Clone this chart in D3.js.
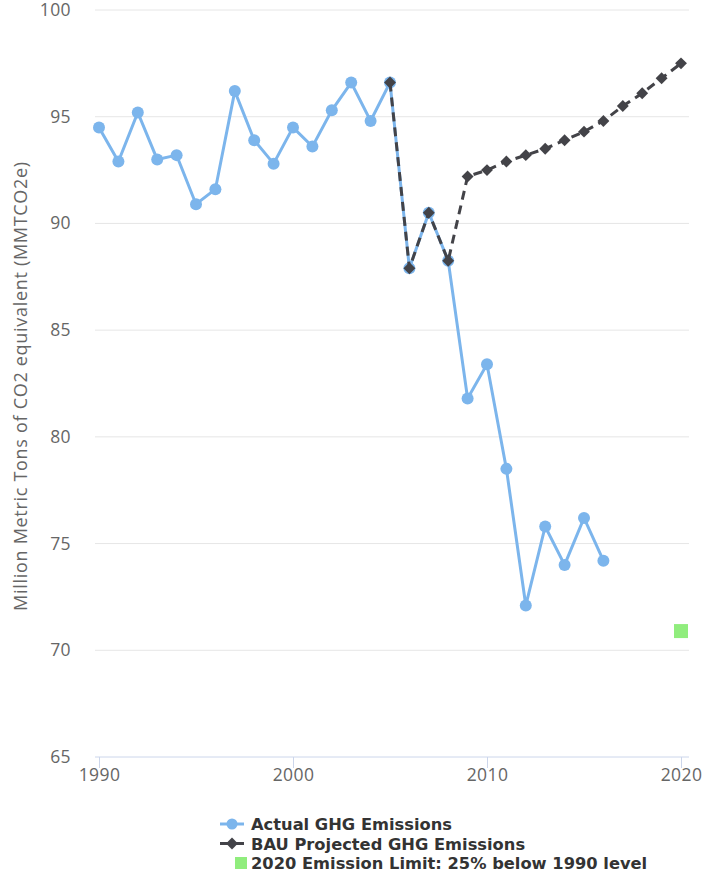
<!DOCTYPE html>
<html>
<head>
<meta charset="utf-8">
<script src="https://cdn.jsdelivr.net/npm/d3@7"></script>
<style>
  body { margin: 0; background: #fff; }
  svg { display: block; font-family: "DejaVu Sans", sans-serif; }
</style>
</head>
<body>
<svg width="705" height="874"></svg>
<script>
// data
var actualYears = d3.range(1990, 2017);
var actualValues = [94.5, 92.9, 95.2, 93.0, 93.2, 90.9, 91.6, 96.2, 93.9, 92.8,
                    94.5, 93.6, 95.3, 96.6, 94.8, 96.6, 87.9, 90.5, 88.25, 81.8,
                    83.4, 78.5, 72.1, 75.8, 74.0, 76.2, 74.2];
var bauYears = d3.range(2005, 2021);
var bauValues = [96.6, 87.9, 90.5, 88.25, 92.2, 92.5, 92.9, 93.2, 93.5, 93.9,
                 94.3, 94.8, 95.5, 96.1, 96.8, 97.5];
var limitYear = [2020];
var limitValue = [70.9];
var yTicks = [65, 70, 75, 80, 85, 90, 95, 100];
var xTicks = [1990, 2000, 2010, 2020];
var legendNames = ["Actual GHG Emissions", "BAU Projected GHG Emissions", "2020 Emission Limit: 25% below 1990 level"];

var svg = d3.select("svg");

var plotLeft = 95, plotRight = 689, plotTop = 10, plotBottom = 757;

var x = d3.scaleLinear().domain([1990, 2020]).range([99, 681]);
var y = d3.scaleLinear().domain([65, 100]).range([plotBottom, plotTop]);

// gridlines
svg.append("g").selectAll("line")
  .data(yTicks.slice(1))
  .enter().append("line")
  .attr("x1", plotLeft).attr("x2", plotRight)
  .attr("y1", d => y(d)).attr("y2", d => y(d))
  .attr("stroke", "#e6e6e6").attr("stroke-width", 1);

// y labels
svg.append("g").selectAll("text")
  .data(yTicks)
  .enter().append("text")
  .attr("x", 71)
  .attr("y", d => y(d) + 6)
  .attr("text-anchor", "end")
  .style("font-family", "'Open Sans', sans-serif")
  .style("font-size", "17.5px")
  .style("letter-spacing", "0.4px")
  .style("fill", "#666")
  .text(d => d);

// y title
svg.append("text")
  .attr("transform", "translate(27,386) rotate(-90)")
  .attr("text-anchor", "middle")
  .style("font-family", "'Open Sans', sans-serif")
  .style("font-size", "18px")
  .style("letter-spacing", "0.7px")
  .style("fill", "#666")
  .text("Million Metric Tons of CO2 equivalent (MMTCO2e)");

// x axis
var xAxis = d3.axisBottom(x).tickValues(xTicks).tickSize(11).tickFormat(d3.format("d"));
var gx = svg.append("g").attr("transform", "translate(0," + plotBottom + ")").call(xAxis);
gx.select(".domain").remove();
gx.append("line").attr("x1", plotLeft).attr("x2", plotRight).attr("stroke", "#ccd6eb");
gx.selectAll(".tick line").attr("stroke", "#ccd6eb");
gx.selectAll(".tick text")
  .attr("y", 12)
  .style("font-family", "'Open Sans', sans-serif")
  .style("font-size", "17.5px")
  .style("letter-spacing", "0.4px")
  .style("fill", "#666");

var line = d3.line().x(d => x(d[0])).y(d => y(d[1]));

var actual = actualYears.map((d, i) => [d, actualValues[i]]);
var bau = bauYears.map((d, i) => [d, bauValues[i]]);

// actual series
svg.append("path")
  .datum(actual)
  .attr("d", line)
  .attr("fill", "none")
  .attr("stroke", "#7cb5ec")
  .attr("stroke-width", 3);

svg.append("g").selectAll("circle")
  .data(actual)
  .enter().append("circle")
  .attr("cx", d => x(d[0])).attr("cy", d => y(d[1]))
  .attr("r", 6)
  .attr("fill", "#7cb5ec");

// BAU series
svg.append("path")
  .datum(bau)
  .attr("d", line)
  .attr("fill", "none")
  .attr("stroke", "#434348")
  .attr("stroke-width", 3)
  .attr("stroke-dasharray", "9,6");

var diamond = d3.symbol().type(d3.symbolDiamond2).size(90);
svg.append("g").selectAll("path")
  .data(bau)
  .enter().append("path")
  .attr("d", diamond)
  .attr("transform", d => "translate(" + x(d[0]) + "," + y(d[1]) + ")")
  .attr("fill", "#434348");

// limit
svg.append("g").selectAll("rect")
  .data(limitYear)
  .enter().append("rect")
  .attr("x", (d) => x(d) - 7)
  .attr("y", (d, i) => y(limitValue[i]) - 7)
  .attr("width", 14).attr("height", 14)
  .attr("fill", "#90ed7d");

// legend
var legend = svg.append("g").attr("transform", "translate(220,824)");
var items = legend.selectAll("g")
  .data(legendNames)
  .enter().append("g")
  .attr("transform", (d, i) => "translate(0," + i * 19.5 + ")");

items.append("text")
  .attr("x", 31).attr("y", 6)
  .style("font-size", "16.3px")
  .style("font-weight", "bold")
  .style("fill", "#333")
  .text(d => d);

items.filter((d, i) => i == 0).append("line")
  .attr("x1", 0).attr("x2", 24)
  .attr("stroke", "#7cb5ec").attr("stroke-width", 3);
items.filter((d, i) => i == 0).append("circle")
  .attr("cx", 12).attr("r", 5.5).attr("fill", "#7cb5ec");

items.filter((d, i) => i == 1).append("line")
  .attr("x1", 0).attr("x2", 26)
  .attr("stroke", "#434348").attr("stroke-width", 3)
  .attr("stroke-dasharray", "9,6");
items.filter((d, i) => i == 1).append("path")
  .attr("d", diamond)
  .attr("transform", "translate(12,0)")
  .attr("fill", "#434348");

items.filter((d, i) => i == 2).append("rect")
  .attr("x", 15).attr("y", -6).attr("width", 12).attr("height", 12)
  .attr("fill", "#90ed7d");
</script>
</body>
</html>
